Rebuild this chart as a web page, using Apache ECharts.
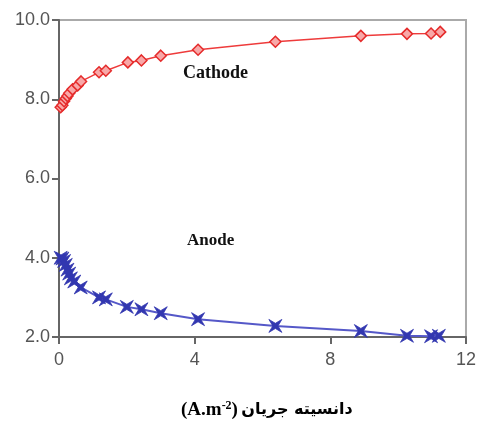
<!DOCTYPE html>
<html><head><meta charset="utf-8">
<script src="https://cdn.jsdelivr.net/npm/echarts@6/dist/echarts.min.js"></script>
<style>html,body{margin:0;padding:0;background:#fff}#c{width:479px;height:424px}</style>
</head><body><div id="c"></div>
<script>
const cathodeX = [0.05,0.1,0.15,0.2,0.25,0.3,0.4,0.55,0.65,1.18,1.38,2.03,2.43,3.0,4.1,6.38,8.9,10.26,10.97,11.24];
const cathodeY = [7.8,7.85,7.95,8.02,8.08,8.15,8.25,8.35,8.45,8.68,8.72,8.93,8.98,9.1,9.25,9.45,9.6,9.65,9.66,9.7];
const anodeX = [0.05,0.1,0.15,0.2,0.25,0.3,0.35,0.45,0.64,1.18,1.38,2.0,2.43,3.0,4.1,6.38,8.9,10.26,10.97,11.2];
const anodeY = [4.0,3.98,3.92,3.82,3.7,3.6,3.48,3.4,3.25,3.0,2.95,2.76,2.7,2.6,2.45,2.28,2.15,2.03,2.02,2.03];
const xTicks = [0,4,8,12];
const yTicks = ['2.0','4.0','6.0','8.0','10.0'];
const labelCathode = 'Cathode';
const labelAnode = 'Anode';
const xTitlePersian = 'دانسیته جریان';

const chart = echarts.init(document.getElementById('c'));
const xMark = 'path://M0,0 L5,3 L10,0 L7,5 L10,10 L5,7 L0,10 L3,5 Z';
chart.setOption({
  animation:false,
  grid:{left:59,right:11,top:20,bottom:87,show:true,borderColor:'#aaa',borderWidth:2,backgroundColor:'transparent'},
  xAxis:{type:'value',min:0,max:12,interval:4,
    axisLine:{show:true,lineStyle:{color:'#666',width:2}},
    axisTick:{show:true,length:7,lineStyle:{color:'#666',width:2}},
    axisLabel:{color:'#555',fontSize:18,fontFamily:'Liberation Sans',margin:14,formatter:v=>String(xTicks[v/4])},
    splitLine:{show:false}},
  yAxis:{type:'value',min:2,max:10,interval:2,
    axisLine:{show:true,lineStyle:{color:'#666',width:2}},
    axisTick:{show:true,length:7,lineStyle:{color:'#666',width:2}},
    axisLabel:{color:'#555',fontSize:18,fontFamily:'Liberation Sans',margin:9,formatter:v=>yTicks[(v-2)/2]},
    splitLine:{show:false}},
  series:[
    {type:'line',data:cathodeX.map((x,i)=>[x,cathodeY[i]]),symbol:'diamond',symbolSize:11,
     lineStyle:{color:'#ee3b3b',width:1.5},itemStyle:{color:'#f8a8a8',borderColor:'#e52b2b',borderWidth:1.5}},
    {type:'line',data:anodeX.map((x,i)=>[x,anodeY[i]]),symbol:xMark,symbolSize:13,
     lineStyle:{color:'#5558c8',width:2},itemStyle:{color:'#3237b0',borderColor:'#3237b0',borderWidth:0.8}}
  ],
  graphic:[
    {type:'text',left:183,top:64,style:{text:labelCathode,font:'bold 18px "Liberation Serif"',fill:'#111'}},
    {type:'text',left:187,top:232,style:{text:labelAnode,font:'bold 17px "Liberation Serif"',fill:'#111'}},
    {type:'text',left:181,top:400,style:{
      text:'{a|(A.m}{s|-2}{a|)} {p|'+xTitlePersian+'}',
      rich:{a:{font:'bold 19px "Liberation Serif"',color:'#111'},
            s:{font:'bold 12px "Liberation Serif"',color:'#111',verticalAlign:'top',padding:[0,0,8,0]},
            p:{font:'bold 16px "DejaVu Sans"',color:'#111'}}}}
  ]
});
</script></body></html>
